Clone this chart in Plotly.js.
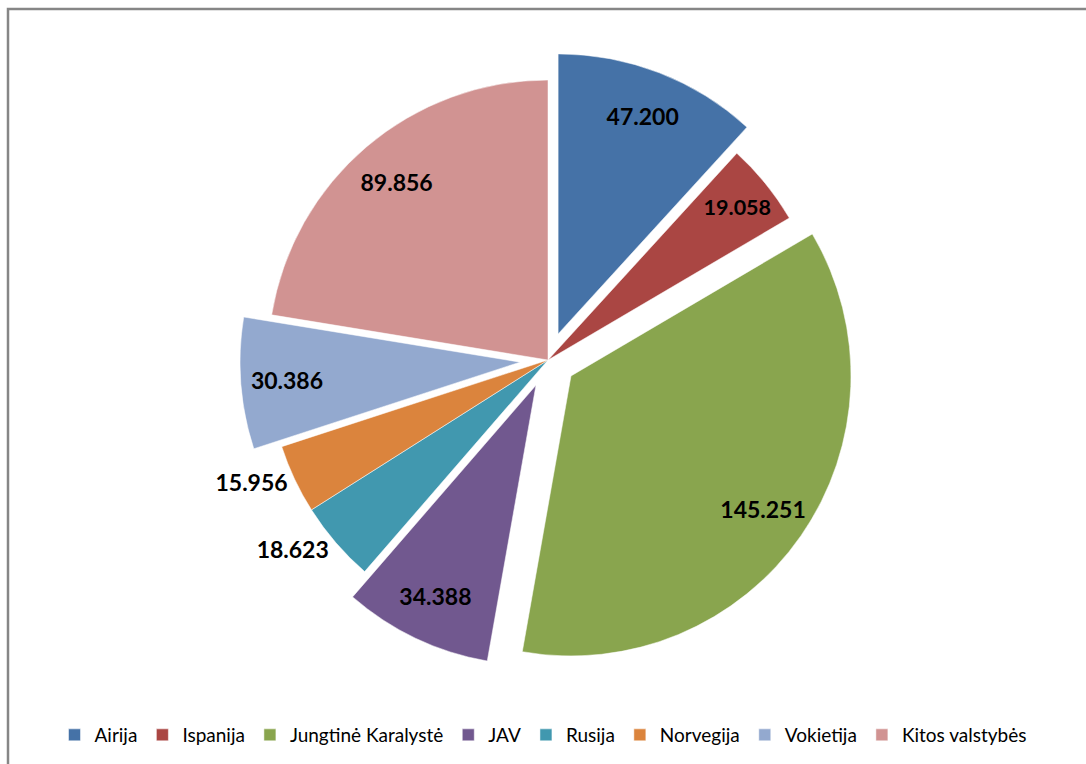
<!DOCTYPE html>
<html>
<head>
<meta charset="utf-8">
<script src="https://cdn.plot.ly/plotly-3.0.1.min.js"></script>
<style>
html,body{margin:0;padding:0;background:#fff;}
#chart{width:1086px;height:764px;}
</style>
</head>
<body>
<div id="chart"></div>
<script>
const categories = ["Airija", "Ispanija", "Jungtinė Karalystė", "JAV", "Rusija", "Norvegija", "Vokietija", "Kitos valstybės"];
const values = [47.200, 19.058, 145.251, 34.388, 18.623, 15.956, 30.386, 89.856];
const valueLabels = ["47.200", "19.058", "145.251", "34.388", "18.623", "15.956", "30.386", "89.856"];
const colors = ["#4572A7", "#AA4643", "#89A54E", "#71588F", "#4198AF", "#DB843D", "#93A9CF", "#D19392"];
const pulls = [0.1, 0, 0.1, 0.1, 0, 0, 0.1, 0];
const textPositions = ["inside", "inside", "inside", "inside", "outside", "outside", "inside", "inside"];

const W = 1086, H = 764;
const cx = 548, cy = 360, R = 280, maxPull = 0.1;
const half = R * (1 + maxPull);
const domain = {
  x: [(cx - half) / W, (cx + half) / W],
  y: [1 - (cy + half) / H, 1 - (cy - half) / H]
};
const labelFont = {family: "Lato, 'Open Sans', sans-serif", size: 23, color: "#000000", weight: "bold"};

// Slices
const pieTrace = {
  type: "pie",
  labels: categories,
  values: values,
  textinfo: "none",
  hoverinfo: "label+value",
  sort: false,
  direction: "clockwise",
  rotation: 0,
  pull: pulls,
  marker: {colors: colors, line: {color: "#ffffff", width: 0.5}},
  domain: domain,
  automargin: false
};

// Data labels (same slices, transparent, placed in the outer ring like the reference)
const labelTrace = {
  type: "pie",
  labels: categories,
  values: values,
  text: valueLabels,
  textinfo: "text",
  hoverinfo: "skip",
  sort: false,
  direction: "clockwise",
  rotation: 0,
  pull: pulls,
  hole: 0.67,
  showlegend: false,
  textposition: textPositions,
  insidetextorientation: "horizontal",
  marker: {colors: categories.map(() => "rgba(0,0,0,0)"), line: {width: 0}},
  textfont: labelFont,
  insidetextfont: labelFont,
  outsidetextfont: labelFont,
  domain: domain,
  automargin: false
};

const layout = {
  width: W,
  height: H,
  margin: {l: 0, r: 0, t: 0, b: 0},
  paper_bgcolor: "#ffffff",
  showlegend: true,
  legend: {
    orientation: "h",
    x: 0.5,
    xanchor: "center",
    y: 1 - 735 / H,
    yanchor: "middle",
    font: {family: "Lato, 'Open Sans', sans-serif", size: 19, color: "#000000"},
    itemwidth: 30,
    traceorder: "normal"
  },
  shapes: [{
    type: "rect",
    xref: "paper", yref: "paper",
    x0: 8 / W, x1: 1.05,
    y0: -0.05, y1: 1 - 9 / H,
    line: {color: "#868686", width: 2.5},
    layer: "below"
  }]
};

Plotly.newPlot("chart", [pieTrace, labelTrace], layout, {displayModeBar: false, staticPlot: true});
</script>
</body>
</html>
